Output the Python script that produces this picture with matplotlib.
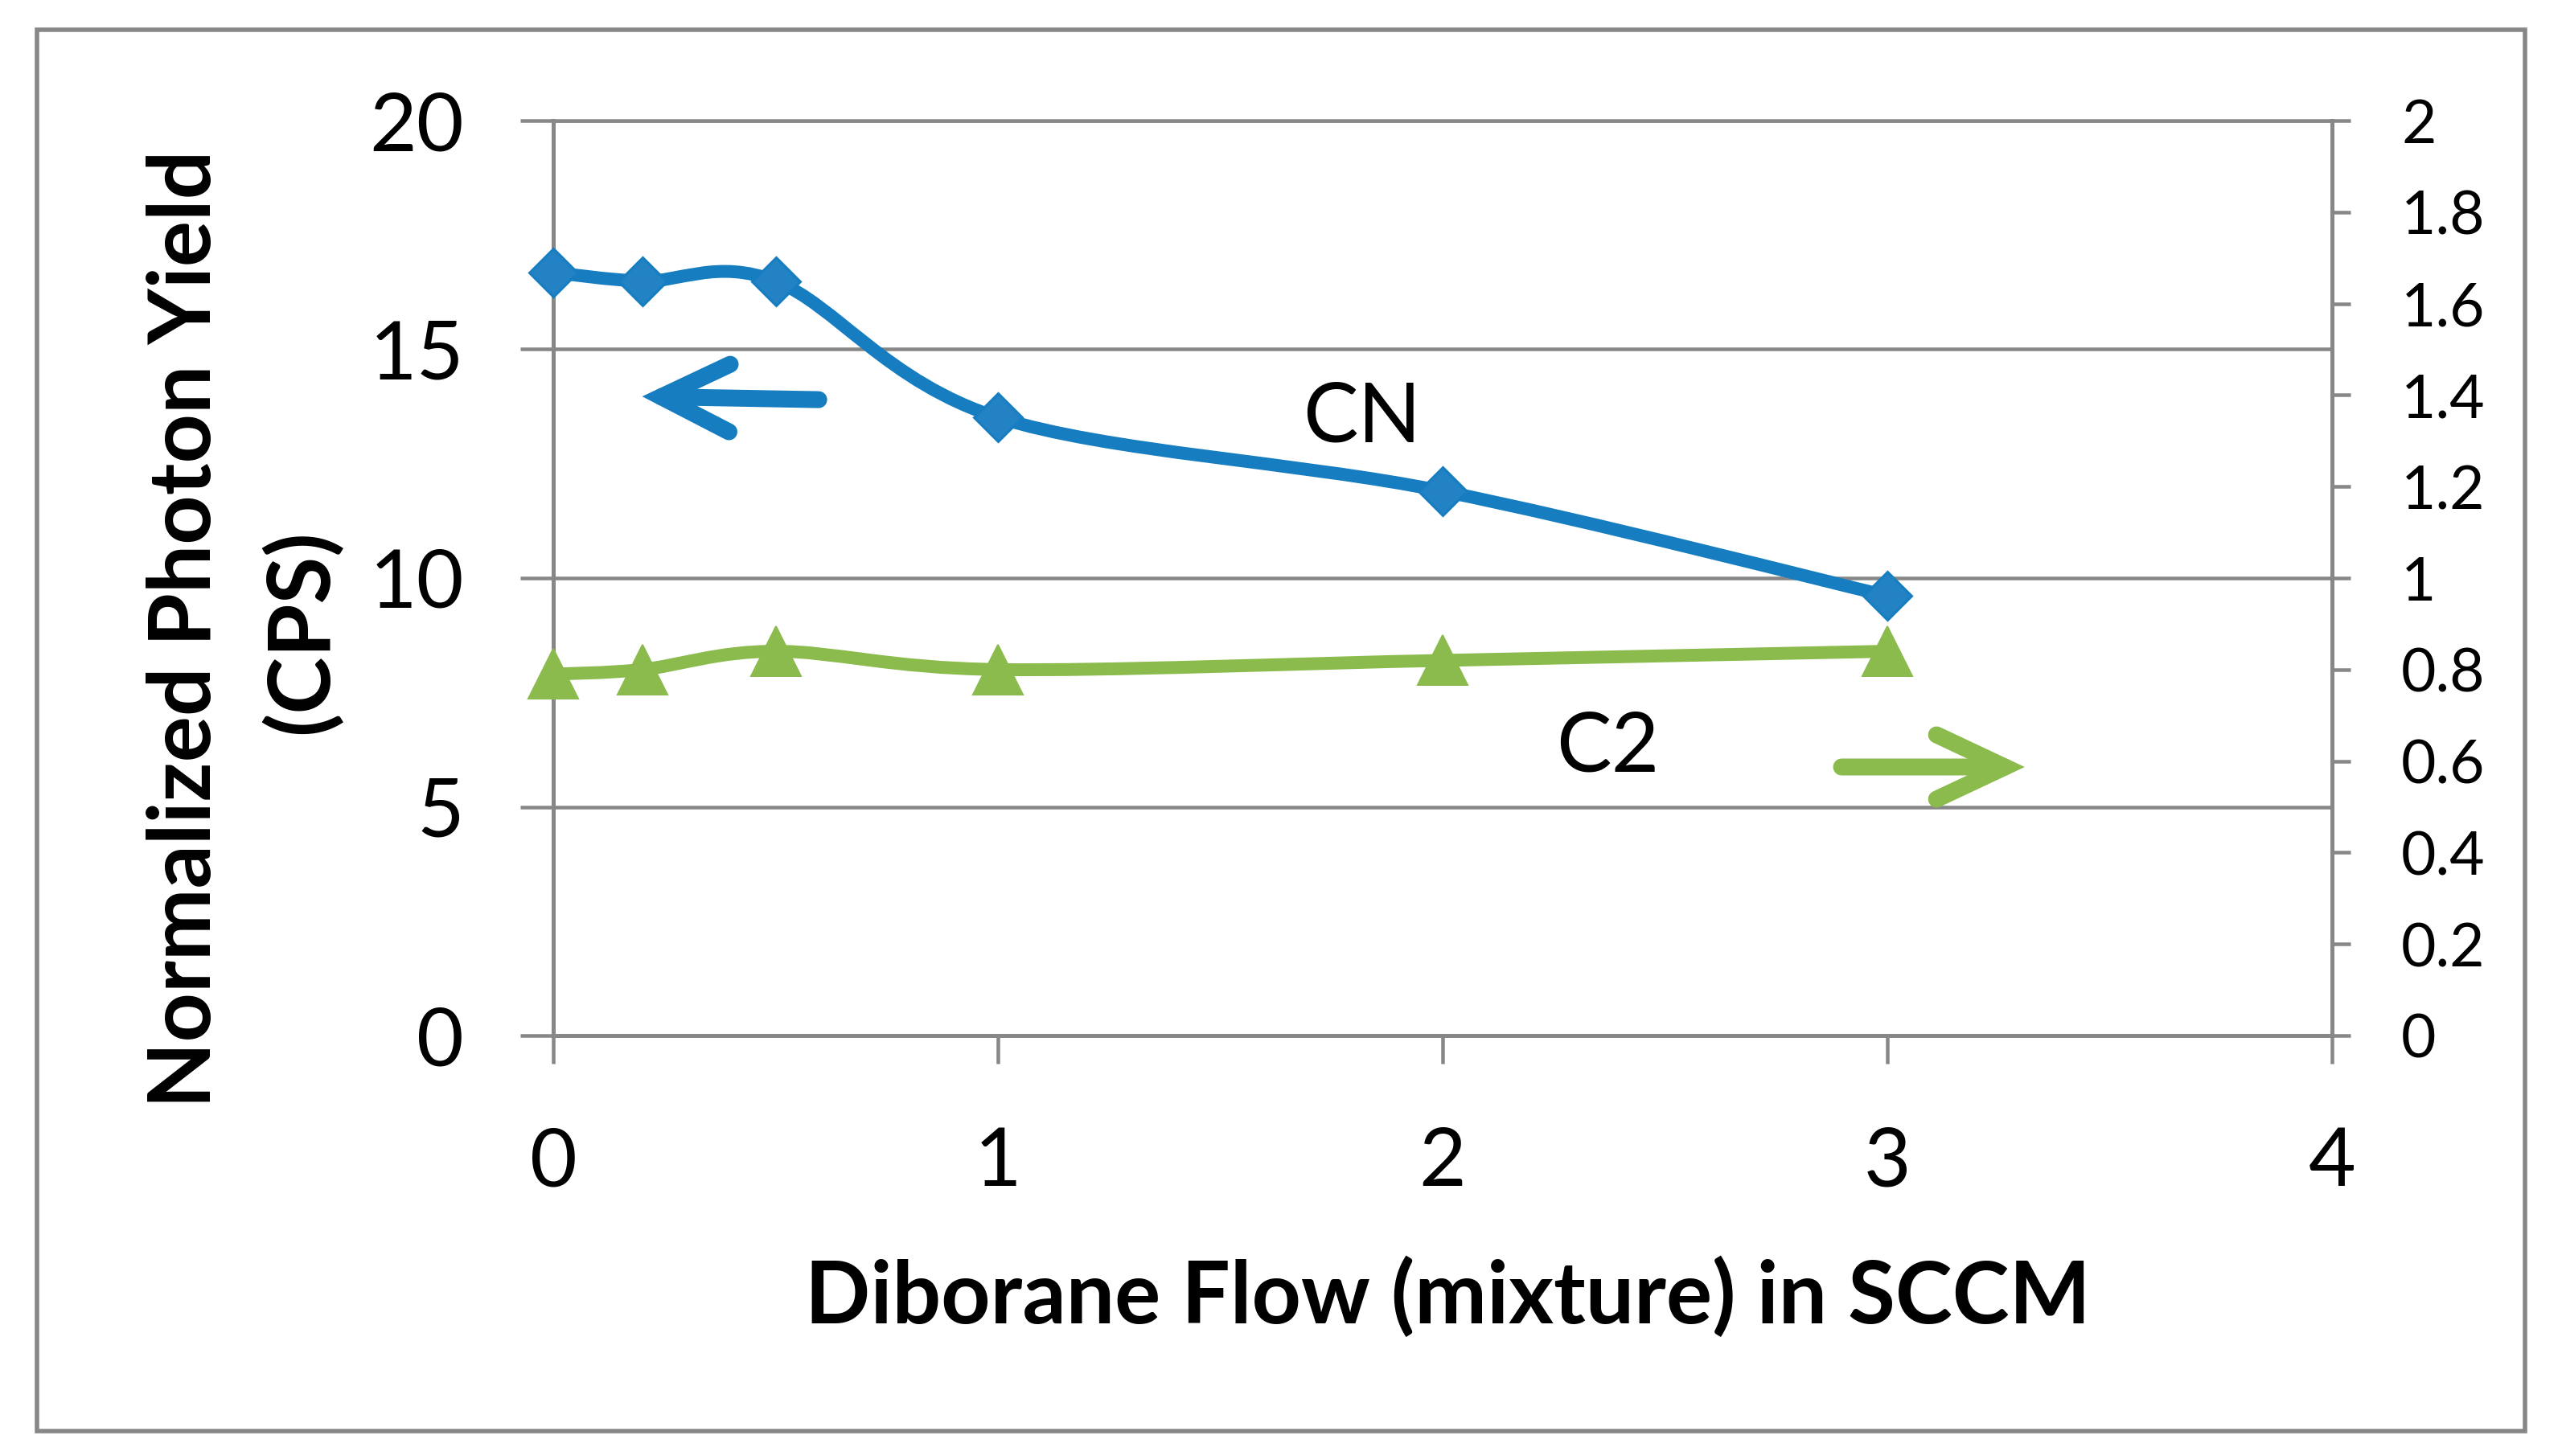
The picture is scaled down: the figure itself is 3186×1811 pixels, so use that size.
import numpy as np
import matplotlib
matplotlib.use('Agg')
import matplotlib.pyplot as plt
from matplotlib.path import Path
from matplotlib.patches import PathPatch, Rectangle
from matplotlib.ticker import FuncFormatter

# data
flow = [0, 0.2, 0.5, 1, 2, 3]                    # diborane flow, SCCM
cn = [16.68, 16.49, 16.49, 13.51, 11.90, 9.61]   # CN, left axis
c2 = [0.79, 0.80, 0.84, 0.80, 0.82, 0.84]        # C2, right axis

x_ticks = [0, 1, 2, 3, 4]
left_ticks = [0, 5, 10, 15, 20]
right_ticks = [0, 0.2, 0.4, 0.6, 0.8, 1, 1.2, 1.4, 1.6, 1.8, 2]

blue = '#157dc0'
blue_m = '#2382c3'
green = '#8bbb4d'
grey = '#878787'

plt.rcParams['font.family'] = ['Lato', 'DejaVu Sans']

W, H, DPI = 3186, 1811, 200
fig = plt.figure(figsize=(W / DPI, H / DPI), dpi=DPI)

def px(v):
    return v / DPI * 72    # pixels -> points

# outer chart border
fig.patches.append(Rectangle((46 / W, 1 - 1780 / H), (3140 - 46) / W, (1780 - 37) / H,
                             transform=fig.transFigure, fill=False,
                             edgecolor=grey, lw=px(5.5)))

x0, x1, ytop, ybot = 688, 2900, 150, 1288
ax = fig.add_axes([x0 / W, 1 - ybot / H, (x1 - x0) / W, (ybot - ytop) / H])
ax2 = ax.twinx()

ax.set_xlim(0, 4)
ax.set_ylim(0, 20)
ax2.set_ylim(0, 2)

ax.set_xticks(x_ticks)
ax.set_yticks(left_ticks)
ax2.set_yticks(right_ticks)
ax2.yaxis.set_major_formatter(FuncFormatter(lambda v, p: '%g' % v))

for a in (ax, ax2):
    for s in a.spines.values():
        s.set_color(grey)
        s.set_linewidth(px(5))
ax.spines['top'].set_linewidth(px(4.5))
ax.spines['right'].set_visible(False)
ax2.spines['left'].set_visible(False)
ax2.spines['bottom'].set_visible(False)
ax2.spines['top'].set_visible(False)

ax.yaxis.grid(True, color=grey, lw=px(4.5))
ax.set_axisbelow(True)

ax.tick_params(axis='y', direction='out', length=px(41), width=px(4.5), color=grey,
               labelsize=36.5, pad=px(70))
ax.tick_params(axis='x', direction='out', length=px(35), width=px(4.5), color=grey,
               labelsize=36.5, pad=px(78))
ax2.tick_params(axis='y', direction='out', length=px(23), width=px(4.5), color=grey,
                labelsize=27, pad=px(63))


def smooth_path(xs, ys):
    # Excel style smoothed line as cubic Bezier segments
    pts = np.column_stack([xs, ys]).astype(float)
    n = len(pts)
    verts = [pts[0]]
    codes = [Path.MOVETO]
    for i in range(n - 1):
        p_prev = pts[i - 1] if i > 0 else pts[i]
        p_next = pts[i + 2] if i + 2 < n else pts[i + 1]
        c1 = pts[i] + (pts[i + 1] - p_prev) / 6
        c2_ = pts[i + 1] - (p_next - pts[i]) / 6
        verts += [c1, c2_, pts[i + 1]]
        codes += [Path.CURVE4] * 3
    return Path(verts, codes)


ax.add_patch(PathPatch(smooth_path(flow, cn), fill=False, edgecolor=blue,
                       lw=px(16), capstyle='round', joinstyle='round', clip_on=False))
ax.plot(flow, cn, ls='none', marker='D', ms=px(42), color=blue_m,
        mec=blue, mew=px(3), clip_on=False, zorder=3)

ax2.add_patch(PathPatch(smooth_path(flow, c2), fill=False, edgecolor=green,
                        lw=px(16), capstyle='round', joinstyle='round', clip_on=False))
ax2.plot(flow, c2, ls='none', marker='^', ms=px(62), color=green,
         mec=green, mew=px(2), clip_on=False, zorder=3)

# pointer arrows
ax.annotate('', xy=(0.200, 13.97), xytext=(0.597, 13.90),
            arrowprops=dict(arrowstyle='->,head_length=%f,head_width=%f' % (px(85), px(42)),
                            lw=px(21), color=blue, shrinkA=0, shrinkB=0,
                            mutation_scale=1, capstyle='round', joinstyle='miter'))
ax2.annotate('', xy=(3.309, 0.587), xytext=(2.897, 0.587),
             arrowprops=dict(arrowstyle='->,head_length=%f,head_width=%f' % (px(85), px(40)),
                             lw=px(21), color=green, shrinkA=0, shrinkB=0,
                             mutation_scale=1, capstyle='round', joinstyle='miter'))

# series labels
fig.text(1694 / W, 1 - 549 / H, 'CN', fontsize=37, ha='center', va='baseline')
fig.text(1999 / W, 1 - 959 / H, 'C2', fontsize=37, ha='center', va='baseline')

# axis titles
fig.text(1800 / W, 1 - 1646 / H, 'Diborane Flow (mixture) in SCCM', fontsize=38.5,
         fontweight='bold', ha='center', va='baseline')
fig.text(262 / W, 1 - 782 / H, 'Normalized Photon Yield', fontsize=38.5,
         fontweight='bold', ha='center', va='baseline', rotation=90, rotation_mode='anchor')
fig.text(407 / W, 1 - 786 / H, '(CPS)', fontsize=38.5,
         fontweight='bold', ha='center', va='baseline', rotation=90, rotation_mode='anchor')

fig.savefig('out.png', dpi=DPI)
